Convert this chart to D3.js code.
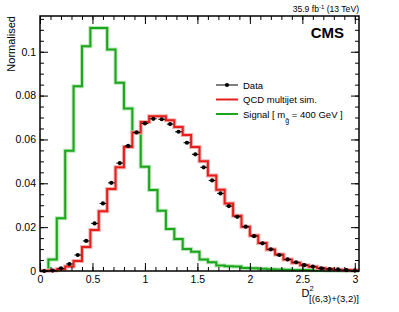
<!DOCTYPE html>
<html>
<head>
<meta charset="utf-8">
<script src="https://cdn.jsdelivr.net/npm/d3@7"></script>
<style>
  body { margin: 0; background: #fff; }
  svg { display: block; font-family: "Liberation Sans", Arial, sans-serif; }
</style>
</head>
<body>
<svg width="399" height="312"></svg>
<script>
// bin edges of D^2 (38 bins)
var binEdges = [0, 0.08, 0.16, 0.24, 0.32, 0.40, 0.48, 0.56, 0.64, 0.72, 0.80, 0.88, 0.96,
  1.04, 1.12, 1.20, 1.28, 1.36, 1.44, 1.52, 1.60, 1.68, 1.76, 1.84, 1.92, 2.00, 2.08,
  2.16, 2.24, 2.32, 2.40, 2.48, 2.56, 2.64, 2.72, 2.80, 2.88, 2.96, 3.04]

var qcd = [0.0001, 0.0002, 0.0008, 0.0020, 0.0046, 0.0110, 0.0187, 0.0273, 0.0374, 0.0473,
  0.0566, 0.0632, 0.0680, 0.0706, 0.0706, 0.0688, 0.0657, 0.0620, 0.0566, 0.0500,
  0.0435, 0.0370, 0.0308, 0.0252, 0.0202, 0.0162, 0.0128, 0.0098, 0.0075, 0.0053,
  0.0038, 0.0026, 0.0019, 0.0013, 0.0009, 0.0006, 0.0004, 0.0003]

var signal = [0, 0.0053, 0.0241, 0.0548, 0.0843, 0.1025, 0.1108, 0.1108, 0.1010, 0.0858,
  0.0741, 0.0630, 0.0475, 0.0369, 0.0275, 0.0191, 0.0146, 0.0100, 0.0088, 0.0053,
  0.0040, 0.0025, 0.0022, 0.0020, 0.0014, 0.0012, 0.0010, 0.0008, 0.0007, 0.0006,
  0.0005, 0.0004, 0.0003, 0.0003, 0.0002, 0.0002, 0.0001, 0.0001]

var data = [0.0000, 0.0002, 0.0012, 0.0032, 0.0073, 0.0137, 0.0217, 0.0308, 0.0402, 0.0492,
  0.0571, 0.0632, 0.0673, 0.0694, 0.0692, 0.0670, 0.0635, 0.0585, 0.0532, 0.0473,
  0.0413, 0.0354, 0.0296, 0.0247, 0.0202, 0.0159, 0.0126, 0.0099, 0.0073, 0.0053,
  0.0040, 0.0027, 0.0020, 0.0012, 0.0009, 0.0007, 0.0004, 0.0002]

var xMajor = [0, 0.5, 1, 1.5, 2, 2.5, 3]
var yMajor = [0, 0.02, 0.04, 0.06, 0.08, 0.1]
var legendLabels = ["Data", "QCD multijet sim.", "Signal"]

var svg = d3.select("svg")
// note: "top" is taken by window.top, so frame edges get their own names
var fLeft = 40, fRight = 359, fTop = 16, fBottom = 271

var x = d3.scaleLinear().domain([0, 3.04]).range([fLeft, fRight])
var y = d3.scaleLinear().domain([0, 0.1163]).range([fBottom, fTop])

var red = "#e3201c", green = "#1ea51e"

// histogram as a step line, pale band under it
function steps(vals) {
    var pts = []
    for (var i = 0; i < vals.length; i++) {
        pts.push([binEdges[i], vals[i]])
        pts.push([binEdges[i+1], vals[i]])
    }
    return pts
}
var line = d3.line().x(function(d){ return x(d[0]) }).y(function(d){ return y(d[1]) })

var plot = svg.append("g")
function drawHist(vals, col, pale) {
    plot.append("path").attr("d", line(steps(vals)))
        .attr("fill", "none").attr("stroke", pale).attr("stroke-width", 4)
    plot.append("path").attr("d", line(steps(vals)))
        .attr("fill", "none").attr("stroke", col).attr("stroke-width", 2)
}
drawHist(signal, green, "#b5e6b5")
drawHist(qcd, red, "#f6b0ae")

// data points
var pts = plot.selectAll(".pt").data(data).enter().append("g")
pts.append("line")
    .attr("x1", function(d,i){ return x(binEdges[i]) + 0.8 })
    .attr("x2", function(d,i){ return x(binEdges[i+1]) - 0.8 })
    .attr("y1", function(d){ return y(d) }).attr("y2", function(d){ return y(d) })
    .attr("stroke", "#000").attr("stroke-width", 1)
pts.append("circle")
    .attr("cx", function(d,i){ return x((binEdges[i] + binEdges[i+1]) / 2) })
    .attr("cy", function(d){ return y(d) })
    .attr("r", 2.1).attr("fill", "#000")

// frame and ticks (ROOT style, ticks inside on all sides)
svg.append("rect").attr("x", fLeft).attr("y", fTop)
    .attr("width", fRight - fLeft).attr("height", fBottom - fTop)
    .attr("fill", "none").attr("stroke", "#000").attr("stroke-width", 1.5)

var xMinor = d3.range(0, 31).map(function(i){ return i / 10 })
var yMinor = d3.range(0, 24).map(function(i){ return i * 0.005 })

function ticks(axisFn, scale, vals, len, pos, labels) {
    var a = axisFn(scale).tickValues(vals).tickSizeInner(len).tickSizeOuter(0)
    if (!labels) a.tickFormat("")
    else a.tickFormat(function(d){ return d3.format("~g")(+d.toFixed(3)) })
    var g = svg.append("g").attr("transform", pos).call(a)
    g.select(".domain").remove()
    g.selectAll("line").attr("stroke", "#000").attr("stroke-width", 1)
    return g
}
ticks(d3.axisBottom, x, xMinor, -4, "translate(0," + fBottom + ")", false)
ticks(d3.axisTop, x, xMinor, -4, "translate(0," + fTop + ")", false)
ticks(d3.axisTop, x, xMajor, -8, "translate(0," + fTop + ")", false)
var gx = ticks(d3.axisBottom, x, xMajor, -8, "translate(0," + fBottom + ")", true)
gx.selectAll("text").attr("y", 5).attr("dy", "0.71em")
    .attr("font-size", 10.5).attr("font-family", "Liberation Sans, Arial, sans-serif").attr("fill", "#000")

ticks(d3.axisLeft, y, yMinor, -4, "translate(" + fLeft + ",0)", false)
ticks(d3.axisRight, y, yMinor, -4, "translate(" + fRight + ",0)", false)
ticks(d3.axisRight, y, yMajor, -8, "translate(" + fRight + ",0)", false)
var gy = ticks(d3.axisLeft, y, yMajor, -8, "translate(" + fLeft + ",0)", true)
gy.selectAll("text").attr("x", -4)
    .attr("font-size", 10.5).attr("font-family", "Liberation Sans, Arial, sans-serif").attr("fill", "#000")

// axis titles
svg.append("text").attr("transform", "translate(15," + fTop + ") rotate(-90)")
    .attr("text-anchor", "end").attr("font-size", 11).text("Normalised")

var xt = svg.append("text").attr("x", fRight).attr("y", 297).attr("text-anchor", "end").attr("font-size", 11)
xt.append("tspan").text("D")
xt.append("tspan").attr("font-size", 7.5).attr("dy", -6).text("2")
xt.append("tspan").attr("font-size", 9.5).attr("dx", -4.5).attr("dy", 11).text("[(6,3)+(3,2)]")

// lumi label and CMS
var lumi = svg.append("text").attr("x", fRight).attr("y", 12).attr("text-anchor", "end").attr("font-size", 8.6)
lumi.append("tspan").text("35.9 fb")
lumi.append("tspan").attr("font-size", 6).attr("dy", -3).text("-1")
lumi.append("tspan").attr("dy", 3).text(" (13 TeV)")

svg.append("text").attr("x", 344).attr("y", 38).attr("text-anchor", "end")
    .attr("font-size", 15).attr("font-weight", "bold").text("CMS")

// legend
var lg = svg.append("g").attr("font-size", 9.5)
var rows = [85, 99.5, 114]
lg.append("line").attr("x1", 216).attr("x2", 238).attr("y1", rows[0]).attr("y2", rows[0]).attr("stroke", "#000").attr("stroke-width", 1)
lg.append("circle").attr("cx", 227).attr("cy", rows[0]).attr("r", 2.1).attr("fill", "#000")
lg.append("line").attr("x1", 216).attr("x2", 238).attr("y1", rows[1]).attr("y2", rows[1]).attr("stroke", red).attr("stroke-width", 2)
lg.append("line").attr("x1", 216).attr("x2", 238).attr("y1", rows[2]).attr("y2", rows[2]).attr("stroke", green).attr("stroke-width", 2)
lg.append("text").attr("x", 243).attr("y", rows[0] + 3.5).text(legendLabels[0])
lg.append("text").attr("x", 243).attr("y", rows[1] + 3.5).text(legendLabels[1])
var sig = lg.append("text").attr("x", 243).attr("y", rows[2] + 3.5)
sig.append("tspan").text(legendLabels[2] + " [ m")
sig.append("tspan").attr("font-size", 7).attr("dy", 5).text("g\u0303")
sig.append("tspan").attr("dy", -5).text(" = 400 GeV ]")
</script>
</body>
</html>
